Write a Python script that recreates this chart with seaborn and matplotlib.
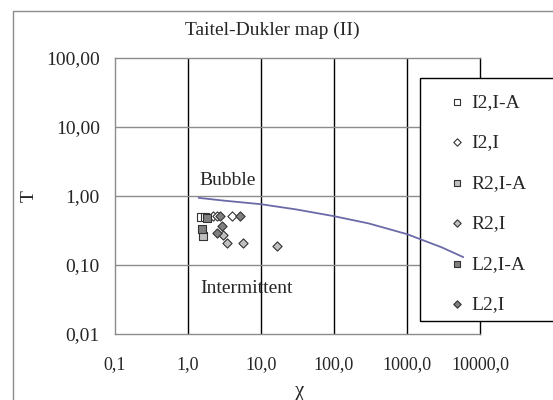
import numpy as np
import pandas as pd
import seaborn as sns
import matplotlib.pyplot as plt
from matplotlib.patches import Rectangle
from matplotlib.ticker import FixedLocator, NullLocator

sns.set_theme(style="white")
plt.rcParams["font.family"] = ["Liberation Serif", "DejaVu Serif"]

# boundary curve (Taitel-Dukler transition)
line_chi = [1.4, 3, 10, 30, 100, 300, 1000, 3000, 5900]
line_T = [0.94, 0.86, 0.76, 0.64, 0.51, 0.40, 0.28, 0.18, 0.13]

# measured points
i2_ia_chi = [1.5, 1.7]
i2_ia_T = [0.50, 0.50]
i2_i_chi = [2.2, 2.5, 4.0]
i2_i_T = [0.51, 0.51, 0.51]
r2_ia_chi = [1.6]
r2_ia_T = [0.26]
r2_i_chi = [3.0, 3.4, 5.6, 16.6]
r2_i_T = [0.27, 0.21, 0.21, 0.19]
l2_ia_chi = [1.83, 1.55]
l2_ia_T = [0.48, 0.33]
l2_i_chi = [2.74, 5.15, 2.9, 2.5]
l2_i_T = [0.51, 0.51, 0.37, 0.29]

xticks = [0.1, 1, 10, 100, 1000, 10000]
xtick_labels = ["0,1", "1,0", "10,0", "100,0", "1000,0", "10000,0"]
yticks = [0.01, 0.1, 1, 10, 100]
ytick_labels = ["0,01", "0,10", "1,00", "10,00", "100,00"]

W, H = 553, 400
fig = plt.figure(figsize=(W / 100, H / 100), dpi=100)
ax = fig.add_axes([115 / W, 1 - 334 / H, (480 - 115) / W, (334 - 58) / H])

ax.set_xscale("log")
ax.set_yscale("log")
ax.set_xlim(0.1, 10000)
ax.set_ylim(0.01, 100)

series = [
    ("I2,I-A", i2_ia_chi, i2_ia_T, "s", "white"),
    ("I2,I", i2_i_chi, i2_i_T, "D", "white"),
    ("R2,I-A", r2_ia_chi, r2_ia_T, "s", "#c0c0c0"),
    ("R2,I", r2_i_chi, r2_i_T, "D", "#c0c0c0"),
    ("L2,I-A", l2_ia_chi, l2_ia_T, "s", "#808080"),
    ("L2,I", l2_i_chi, l2_i_T, "D", "#808080"),
]
for name, xs, ys, mk, col in series:
    sns.scatterplot(x=xs, y=ys, marker=mk, color=col, edgecolor="#333333",
                    linewidth=0.8, s=30 if mk == "s" else 22, ax=ax, label=name, zorder=3)

curve = pd.DataFrame({"chi": line_chi, "T": line_T})
sns.lineplot(data=curve, x="chi", y="T", color="#6a6aa8", linewidth=1.3,
             sort=False, estimator=None, ax=ax, zorder=2.8)

# grid: vertical black, horizontal gray
ax.xaxis.set_major_locator(FixedLocator(xticks))
ax.yaxis.set_major_locator(FixedLocator(yticks))
ax.xaxis.set_minor_locator(NullLocator())
ax.yaxis.set_minor_locator(NullLocator())
ax.set_xticklabels(xtick_labels)
ax.set_yticklabels(ytick_labels)
ax.tick_params(axis="x", length=0, pad=16, labelsize=13)
ax.tick_params(axis="y", length=0, pad=11, labelsize=14)
ax.grid(False)
for xv in xticks[1:-1]:
    ax.axvline(xv, color="black", linewidth=1, zorder=1)
for yv in yticks[1:-1]:
    ax.axhline(yv, color="#8c8c8c", linewidth=1, zorder=1)
for side in ["left", "bottom", "top"]:
    ax.spines[side].set_color("#8c8c8c")
    ax.spines[side].set_linewidth(1)
ax.spines["right"].set_color("black")
ax.spines["right"].set_linewidth(1)

ax.set_xlabel("χ", fontsize=15)
ax.set_ylabel("T", fontsize=14)
ax.xaxis.set_label_coords(0.507, -0.175)
ax.yaxis.set_label_coords(-0.212, 0.5)

ax.text(1.45, 1.7, "Bubble", fontsize=14, va="center", ha="left")
ax.text(1.45, 0.046, "Intermittent", fontsize=14, va="center", ha="left")

fig.text(272 / W, 1 - 30 / H, "Taitel-Dukler map (II)", fontsize=14, ha="center", va="center")

# chart frame (runs off right/bottom edge)
fig.add_artist(Rectangle((13 / W, -0.1), 1.0, 1 - 11 / H + 0.1, transform=fig.transFigure,
                         fill=False, edgecolor="#8c8c8c", linewidth=1, zorder=0))

# legend box, clipped at right edge; sits over grid and spines but under the curve
handles, labels = ax.get_legend_handles_labels()
ax.get_legend().remove()
ax.add_patch(Rectangle((420 / W, 1 - 321 / H), 0.5, (321 - 78) / H, transform=fig.transFigure,
                       facecolor="white", edgecolor="black", linewidth=1, zorder=2.7,
                       clip_on=False))
leg = fig.legend(handles, labels, loc="upper left", bbox_to_anchor=(436 / W, 1 - 80 / H),
                 frameon=False, fontsize=14, handlelength=0.8, handletextpad=0.3,
                 labelspacing=1.17, borderpad=0.2, markerscale=0.8)
leg.set_zorder(6)

fig.savefig("out.png", dpi=100)
